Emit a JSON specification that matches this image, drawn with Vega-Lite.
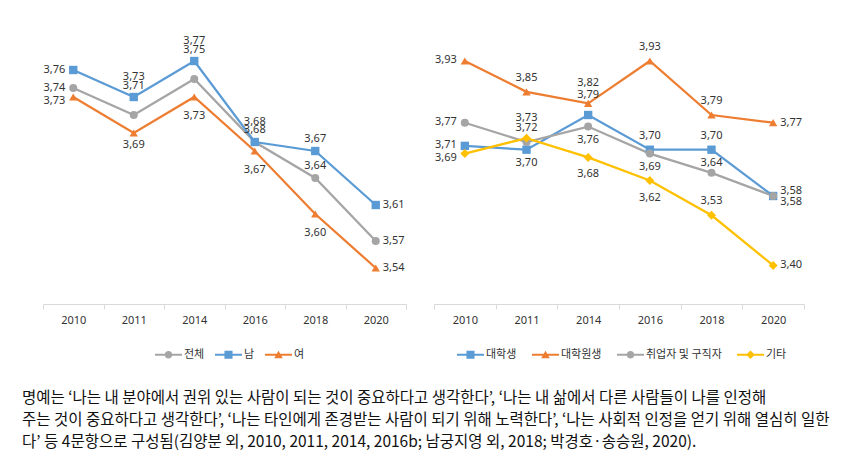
{
  "$schema": "https://vega.github.io/schema/vega-lite/v6.json",
  "padding": {"left": 22, "top": 34, "right": 10, "bottom": 5},
  "spacing": 26,
  "config": {
    "locale": {"number": {"decimal": ",", "thousands": ".", "grouping": [3], "currency": ["", ""]}},
    "view": {"stroke": null},
    "font": "Noto Sans CJK KR",
    "axisX": {"title": null, "domainColor": "#D9D9D9", "tickColor": "#D9D9D9", "tickSize": 5, "tickBand": "extent", "labelFontSize": 11, "labelColor": "#333333", "labelPadding": 5, "labelAngle": 0, "grid": false, "labelFont": "Noto Sans"},
    "text": {"fontSize": 11, "color": "#333333", "font": "Noto Sans"}
  },
  "resolve": {"scale": {"x": "independent", "y": "independent", "color": "independent"}, "legend": {"color": "independent"}},
  "title": {
    "text": [
      "명예는 ‘나는 내 분야에서 권위 있는 사람이 되는 것이 중요하다고 생각한다’, ‘나는 내 삶에서 다른 사람들이 나를 인정해",
      "주는 것이 중요하다고 생각한다’, ‘나는 타인에게 존경받는 사람이 되기 위해 노력한다’, ‘나는 사회적 인정을 얻기 위해 열심히 일한",
      "다’ 등 4문항으로 구성됨(김양분 외, 2010, 2011, 2014, 2016b; 남궁지영 외, 2018; 박경호·송승원, 2020)."
    ],
    "orient": "bottom", "anchor": "start", "offset": 31, "frame": "bounds",
    "font": "Noto Sans CJK KR", "fontSize": 15.5, "fontWeight": "normal", "color": "#111111", "lineHeight": 22
  },
  "hconcat": [
    {
      "width": 363, "height": 270,
      "data": {"values": [
        {"year": "2010", "group": "전체", "value": 3.74}, {"year": "2010", "group": "남", "value": 3.76}, {"year": "2010", "group": "여", "value": 3.73},
        {"year": "2011", "group": "전체", "value": 3.71}, {"year": "2011", "group": "남", "value": 3.73}, {"year": "2011", "group": "여", "value": 3.69},
        {"year": "2014", "group": "전체", "value": 3.75}, {"year": "2014", "group": "남", "value": 3.77}, {"year": "2014", "group": "여", "value": 3.73},
        {"year": "2016", "group": "전체", "value": 3.68}, {"year": "2016", "group": "남", "value": 3.68}, {"year": "2016", "group": "여", "value": 3.67},
        {"year": "2018", "group": "전체", "value": 3.64}, {"year": "2018", "group": "남", "value": 3.67}, {"year": "2018", "group": "여", "value": 3.60},
        {"year": "2020", "group": "전체", "value": 3.57}, {"year": "2020", "group": "남", "value": 3.61}, {"year": "2020", "group": "여", "value": 3.54}
      ]},
      "encoding": {
        "x": {"field": "year", "type": "ordinal", "bandPosition": 0.5, "scale": {"type": "band", "paddingInner": 0, "paddingOuter": 0}},
        "y": {"field": "value", "type": "quantitative", "scale": {"domain": [3.5, 3.8], "zero": false, "nice": false},
          "axis": {"title": null, "domain": false, "ticks": false, "labels": false, "grid": false, "minExtent": 21, "maxExtent": 21}}
      },
      "layer": [
        {"mark": {"type": "line", "strokeWidth": 2.25},
         "encoding": {"color": {"field": "group", "type": "nominal", "scale": {"domain": ["전체", "남", "여"], "range": ["#A5A5A5", "#5B9BD5", "#ED7D31"]},
           "legend": {"orient": "none", "legendX": 112, "legendY": 307, "direction": "horizontal", "title": null, "labelFontSize": 11, "labelColor": "#333333", "symbolSize": 729, "symbolStrokeWidth": 0, "columnPadding": 10, "labelOffset": 2,
             "encode": {"symbols": {"update": {
               "shape": {"signal": "datum.value === '전체' ? 'M-1,-0.08H1V0.08H-1Z M-0.28,0A0.28,0.28 0 1,1 0.28,0A0.28,0.28 0 1,1 -0.28,0Z' : datum.value === '남' ? 'M-1,-0.08H1V0.08H-1Z M-0.3,-0.3H0.3V0.3H-0.3Z' : 'M-1,-0.08H1V0.08H-1Z M0,-0.3L0.32,0.25H-0.32Z'"},
               "fill": {"signal": "datum.value === '전체' ? '#A5A5A5' : datum.value === '남' ? '#5B9BD5' : '#ED7D31'"},
               "stroke": {"value": "transparent"}, "opacity": {"value": 1}, "fillOpacity": {"value": 1}}}}}}}},
        {"transform": [{"filter": "datum.group == '전체'"}], "mark": {"type": "point", "filled": true, "opacity": 1, "size": 64, "shape": "circle"},
         "encoding": {"color": {"field": "group", "type": "nominal", "legend": null}}},
        {"transform": [{"filter": "datum.group == '남'"}], "mark": {"type": "point", "filled": true, "opacity": 1, "size": 70, "shape": "square"},
         "encoding": {"color": {"field": "group", "type": "nominal", "legend": null}}},
        {"transform": [{"filter": "datum.group == '여'"}], "mark": {"type": "point", "filled": true, "opacity": 1, "size": 70, "shape": "triangle-up"},
         "encoding": {"color": {"field": "group", "type": "nominal", "legend": null}}},
        {"transform": [{"filter": "indexof(['2010|남','2010|전체'], datum.year + '|' + datum.group) >= 0"}],
         "mark": {"type": "text", "align": "right", "dx": -8, "dy": 0}, "encoding": {"text": {"field": "value", "type": "quantitative", "format": ".2f"}}},
        {"transform": [{"filter": "indexof(['2010|여'], datum.year + '|' + datum.group) >= 0"}],
         "mark": {"type": "text", "align": "right", "dx": -8, "dy": 4}, "encoding": {"text": {"field": "value", "type": "quantitative", "format": ".2f"}}},
        {"transform": [{"filter": "datum.year == '2020'"}],
         "mark": {"type": "text", "align": "left", "dx": 7, "dy": 0}, "encoding": {"text": {"field": "value", "type": "quantitative", "format": ".2f"}}},
        {"transform": [{"filter": "indexof(['2016|전체','2018|전체','2018|남'], datum.year + '|' + datum.group) >= 0"}],
         "mark": {"type": "text", "dy": -12}, "encoding": {"text": {"field": "value", "type": "quantitative", "format": ".2f"}}},
        {"transform": [{"filter": "indexof(['2011|남','2014|남','2016|남'], datum.year + '|' + datum.group) >= 0"}],
         "mark": {"type": "text", "dy": -20}, "encoding": {"text": {"field": "value", "type": "quantitative", "format": ".2f"}}},
        {"transform": [{"filter": "indexof(['2011|전체','2014|전체'], datum.year + '|' + datum.group) >= 0"}],
         "mark": {"type": "text", "dy": -29}, "encoding": {"text": {"field": "value", "type": "quantitative", "format": ".2f"}}},
        {"transform": [{"filter": "indexof(['2011|여'], datum.year + '|' + datum.group) >= 0"}],
         "mark": {"type": "text", "dy": 12}, "encoding": {"text": {"field": "value", "type": "quantitative", "format": ".2f"}}},
        {"transform": [{"filter": "indexof(['2014|여','2016|여','2018|여'], datum.year + '|' + datum.group) >= 0"}],
         "mark": {"type": "text", "dy": 19}, "encoding": {"text": {"field": "value", "type": "quantitative", "format": ".2f"}}}
      ]
    },
    {
      "width": 370, "height": 270,
      "data": {"values": [
        {"year": "2010", "group": "대학생", "value": 3.71}, {"year": "2010", "group": "대학원생", "value": 3.93}, {"year": "2010", "group": "취업자 및 구직자", "value": 3.77}, {"year": "2010", "group": "기타", "value": 3.69},
        {"year": "2011", "group": "대학생", "value": 3.70}, {"year": "2011", "group": "대학원생", "value": 3.85}, {"year": "2011", "group": "취업자 및 구직자", "value": 3.72}, {"year": "2011", "group": "기타", "value": 3.73},
        {"year": "2014", "group": "대학생", "value": 3.79}, {"year": "2014", "group": "대학원생", "value": 3.82}, {"year": "2014", "group": "취업자 및 구직자", "value": 3.76}, {"year": "2014", "group": "기타", "value": 3.68},
        {"year": "2016", "group": "대학생", "value": 3.70}, {"year": "2016", "group": "대학원생", "value": 3.93}, {"year": "2016", "group": "취업자 및 구직자", "value": 3.69}, {"year": "2016", "group": "기타", "value": 3.62},
        {"year": "2018", "group": "대학생", "value": 3.70}, {"year": "2018", "group": "대학원생", "value": 3.79}, {"year": "2018", "group": "취업자 및 구직자", "value": 3.64}, {"year": "2018", "group": "기타", "value": 3.53},
        {"year": "2020", "group": "대학생", "value": 3.58}, {"year": "2020", "group": "대학원생", "value": 3.77}, {"year": "2020", "group": "취업자 및 구직자", "value": 3.58}, {"year": "2020", "group": "기타", "value": 3.40}
      ]},
      "encoding": {
        "x": {"field": "year", "type": "ordinal", "bandPosition": 0.5, "scale": {"type": "band", "paddingInner": 0, "paddingOuter": 0}},
        "y": {"field": "value", "type": "quantitative", "scale": {"domain": [3.3, 4.0], "zero": false, "nice": false}, "axis": null}
      },
      "layer": [
        {"mark": {"type": "line", "strokeWidth": 2.25},
         "encoding": {"color": {"field": "group", "type": "nominal", "scale": {"domain": ["대학생", "대학원생", "취업자 및 구직자", "기타"], "range": ["#5B9BD5", "#ED7D31", "#A5A5A5", "#FFC000"]},
           "legend": {"orient": "none", "legendX": 23, "legendY": 307, "direction": "horizontal", "title": null, "labelFontSize": 11, "labelColor": "#333333", "symbolSize": 729, "symbolStrokeWidth": 0, "columnPadding": 15, "labelOffset": 2,
             "encode": {"symbols": {"update": {
               "shape": {"signal": "datum.value === '대학생' ? 'M-1,-0.08H1V0.08H-1Z M-0.3,-0.3H0.3V0.3H-0.3Z' : datum.value === '대학원생' ? 'M-1,-0.08H1V0.08H-1Z M0,-0.3L0.32,0.25H-0.32Z' : datum.value === '기타' ? 'M-1,-0.08H1V0.08H-1Z M0,-0.32L0.32,0L0,0.32L-0.32,0Z' : 'M-1,-0.08H1V0.08H-1Z M-0.28,0A0.28,0.28 0 1,1 0.28,0A0.28,0.28 0 1,1 -0.28,0Z'"},
               "fill": {"signal": "datum.value === '대학생' ? '#5B9BD5' : datum.value === '대학원생' ? '#ED7D31' : datum.value === '기타' ? '#FFC000' : '#A5A5A5'"},
               "stroke": {"value": "transparent"}, "opacity": {"value": 1}, "fillOpacity": {"value": 1}}}}}}}},
        {"transform": [{"filter": "datum.group == '대학생'"}], "mark": {"type": "point", "filled": true, "opacity": 1, "size": 70, "shape": "square"},
         "encoding": {"color": {"field": "group", "type": "nominal", "legend": null}}},
        {"transform": [{"filter": "datum.group == '대학원생'"}], "mark": {"type": "point", "filled": true, "opacity": 1, "size": 70, "shape": "triangle-up"},
         "encoding": {"color": {"field": "group", "type": "nominal", "legend": null}}},
        {"transform": [{"filter": "datum.group == '취업자 및 구직자'"}], "mark": {"type": "point", "filled": true, "opacity": 1, "size": 64, "shape": "circle"},
         "encoding": {"color": {"field": "group", "type": "nominal", "legend": null}}},
        {"transform": [{"filter": "datum.group == '기타'"}], "mark": {"type": "point", "filled": true, "opacity": 1, "size": 80, "shape": "diamond"},
         "encoding": {"color": {"field": "group", "type": "nominal", "legend": null}}},
        {"transform": [{"filter": "indexof(['2010|대학원생','2010|취업자 및 구직자','2010|대학생'], datum.year + '|' + datum.group) >= 0"}],
         "mark": {"type": "text", "align": "right", "dx": -8, "dy": -1}, "encoding": {"text": {"field": "value", "type": "quantitative", "format": ".2f"}}},
        {"transform": [{"filter": "indexof(['2010|기타'], datum.year + '|' + datum.group) >= 0"}],
         "mark": {"type": "text", "align": "right", "dx": -8, "dy": 4}, "encoding": {"text": {"field": "value", "type": "quantitative", "format": ".2f"}}},
        {"transform": [{"filter": "indexof(['2020|대학원생','2020|기타'], datum.year + '|' + datum.group) >= 0"}],
         "mark": {"type": "text", "align": "left", "dx": 7, "dy": 0}, "encoding": {"text": {"field": "value", "type": "quantitative", "format": ".2f"}}},
        {"transform": [{"filter": "indexof(['2020|취업자 및 구직자'], datum.year + '|' + datum.group) >= 0"}],
         "mark": {"type": "text", "align": "left", "dx": 7, "dy": -5}, "encoding": {"text": {"field": "value", "type": "quantitative", "format": ".2f"}}},
        {"transform": [{"filter": "indexof(['2020|대학생'], datum.year + '|' + datum.group) >= 0"}],
         "mark": {"type": "text", "align": "left", "dx": 7, "dy": 6}, "encoding": {"text": {"field": "value", "type": "quantitative", "format": ".2f"}}},
        {"transform": [{"filter": "indexof(['2011|대학원생','2011|취업자 및 구직자','2016|대학원생','2016|대학생','2018|대학원생','2018|대학생','2018|기타'], datum.year + '|' + datum.group) >= 0"}],
         "mark": {"type": "text", "dy": -14}, "encoding": {"text": {"field": "value", "type": "quantitative", "format": ".2f"}}},
        {"transform": [{"filter": "indexof(['2018|취업자 및 구직자'], datum.year + '|' + datum.group) >= 0"}],
         "mark": {"type": "text", "dy": -10}, "encoding": {"text": {"field": "value", "type": "quantitative", "format": ".2f"}}},
        {"transform": [{"filter": "indexof(['2011|기타','2014|대학원생','2014|대학생'], datum.year + '|' + datum.group) >= 0"}],
         "mark": {"type": "text", "dy": -20}, "encoding": {"text": {"field": "value", "type": "quantitative", "format": ".2f"}}},
        {"transform": [{"filter": "indexof(['2011|대학생','2014|취업자 및 구직자','2016|취업자 및 구직자'], datum.year + '|' + datum.group) >= 0"}],
         "mark": {"type": "text", "dy": 13}, "encoding": {"text": {"field": "value", "type": "quantitative", "format": ".2f"}}},
        {"transform": [{"filter": "indexof(['2014|기타','2016|기타'], datum.year + '|' + datum.group) >= 0"}],
         "mark": {"type": "text", "dy": 17}, "encoding": {"text": {"field": "value", "type": "quantitative", "format": ".2f"}}}
      ]
    }
  ]
}
